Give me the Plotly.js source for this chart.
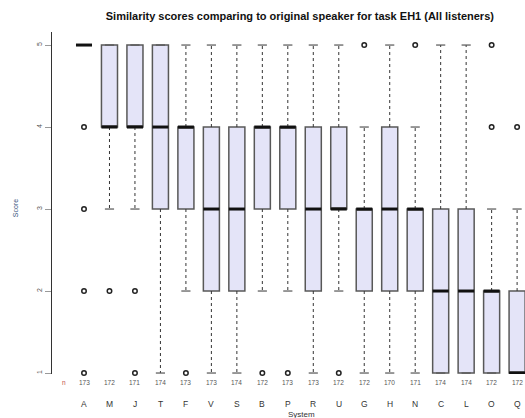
<!DOCTYPE html>
<html>
<head>
<meta charset="utf-8">
<script src="https://cdn.plot.ly/plotly-3.0.1.min.js"></script>
<style>
  html, body { margin: 0; padding: 0; background: #fff; }
  #chart { width: 525px; height: 418px; }
</style>
</head>
<body>
<div id="chart"></div>
<script>
// Systems, in plotting order
const systems = ["A","M","J","T","F","V","S","B","P","R","U","G","H","N","C","L","O","Q"];
// Number of ratings per system
const counts = [173,172,171,174,173,173,174,172,173,173,172,172,170,171,174,174,172,172];
// Box statistics (scores 1-5)
const lowerWhisker = [5,3,3,1,2,1,1,2,2,1,2,1,1,1,1,1,1,1];
const q1           = [5,4,4,3,3,2,2,3,3,2,3,2,2,2,1,1,1,1];
const medians      = [5,4,4,4,4,3,3,4,4,3,3,3,3,3,2,2,2,1];
const q3           = [5,5,5,5,4,4,4,4,4,4,4,3,4,3,3,3,2,2];
const upperWhisker = [5,5,5,5,5,5,5,5,5,5,5,4,5,4,5,5,3,3];
// Scores falling outside the whiskers
const outliers = [[4,3,2,1],[2],[2,1],[],[1],[],[],[1],[1],[],[1],[5],[],[5],[],[],[5,4],[4]];
const yTicks = [1,2,3,4,5];

const pos = systems.map((s, i) => i);
const BOX_W = 0.63;          // box width in category units
const CAP_HALF = 0.18;       // half width of whisker staples
const UNIT_PX = 25.47;       // pixels per category step

// Dashed whiskers
const wx = [], wy = [];
pos.forEach((x, i) => {
  wx.push(x, x, null, x, x, null);
  wy.push(q3[i], upperWhisker[i], null, q1[i], lowerWhisker[i], null);
});
// Staples at whisker ends
const cx = [], cy = [];
pos.forEach((x, i) => {
  cx.push(x - CAP_HALF, x + CAP_HALF, null, x - CAP_HALF, x + CAP_HALF, null);
  cy.push(upperWhisker[i], upperWhisker[i], null, lowerWhisker[i], lowerWhisker[i], null);
});
// Thick median bars
const mx = [], my = [];
pos.forEach((x, i) => {
  mx.push(x - BOX_W / 2, x + BOX_W / 2, null);
  my.push(medians[i], medians[i], null);
});
// Outlier points
const ox = [], oy = [];
outliers.forEach((vals, i) => vals.forEach(v => { ox.push(pos[i]); oy.push(v); }));

const traces = [
  {
    type: "scatter", mode: "lines", x: wx, y: wy, cliponaxis: false,
    line: { color: "#333", width: 1, dash: "3px,3px" }, hoverinfo: "skip", showlegend: false
  },
  {
    type: "scatter", mode: "lines", x: cx, y: cy, cliponaxis: false,
    line: { color: "#555", width: 1.2 }, hoverinfo: "skip", showlegend: false
  },
  {
    type: "box", x: pos, q1: q1, median: medians, q3: q3,
    lowerfence: q1, upperfence: q3,
    width: BOX_W, whiskerwidth: 0, boxpoints: false,
    fillcolor: "#E4E4F8", line: { color: "#585858", width: 1.5 },
    hoverinfo: "skip", showlegend: false
  },
  {
    type: "scatter", mode: "lines", x: mx, y: my, cliponaxis: false,
    line: { color: "#111", width: 3 }, hoverinfo: "skip", showlegend: false
  },
  {
    type: "scatter", mode: "markers", x: ox, y: oy, cliponaxis: false,
    marker: { symbol: "circle-open", size: 4.5, color: "#222", line: { width: 1.5, color: "#222" } },
    hoverinfo: "skip", showlegend: false
  }
];

const annotations = [];
// Per-system counts and system letters below the plot
pos.forEach((x, i) => {
  annotations.push({
    x: x, y: 0, xref: "x", yref: "paper", yshift: -8, yanchor: "middle",
    text: String(counts[i]), showarrow: false,
    font: { size: 6.5, color: "#555" }
  });
  annotations.push({
    x: x, y: 0, xref: "x", yref: "paper", yshift: -30, yanchor: "middle",
    text: systems[i], showarrow: false,
    font: { size: 8.5, color: "#333" }
  });
});
// Row label for the counts
annotations.push({
  x: -0.78, y: 0, xref: "x", yref: "paper", yshift: -8, yanchor: "middle",
  text: "n", showarrow: false, font: { size: 6.5, color: "#c0504d" }
});
// Axis titles
annotations.push({
  x: (301 - 84) / UNIT_PX, y: 0, xref: "x", yref: "paper", yshift: -40, yanchor: "middle",
  text: "System", showarrow: false, font: { size: 8, color: "#333" }
});
annotations.push({
  x: -0.078, y: 0.485, xref: "paper", yref: "paper", showarrow: false,
  text: "Score", textangle: -90, xanchor: "center", yanchor: "middle",
  font: { size: 7, color: "#34507a" }
});

const layout = {
  width: 525, height: 418,
  margin: { l: 52, r: 0, t: 32, b: 44 },
  paper_bgcolor: "#fff", plot_bgcolor: "#fff",
  font: { family: "Liberation Sans, Arial, sans-serif", color: "#333" },
  title: {
    text: "<b>Similarity scores comparing to original speaker for task EH1 (All listeners)</b>",
    font: { size: 11, color: "#111" },
    xref: "paper", x: 0.524, xanchor: "center",
    yref: "container", y: 1 - 16 / 418, yanchor: "middle"
  },
  xaxis: {
    range: [-1.256, 17.31], showgrid: false, zeroline: false,
    showticklabels: false, ticks: "", showline: false, fixedrange: true
  },
  yaxis: {
    range: [0.988, 5.159], tickvals: yTicks, ticktext: yTicks.map(String),
    tickangle: -90, ticks: "outside", ticklen: 6, tickcolor: "#999",
    tickfont: { size: 7, color: "#555" },
    showgrid: false, zeroline: false, showline: true, linecolor: "#333", linewidth: 1,
    fixedrange: true
  },
  annotations: annotations
};

Plotly.newPlot("chart", traces, layout, { displayModeBar: false, staticPlot: true });
</script>
</body>
</html>
